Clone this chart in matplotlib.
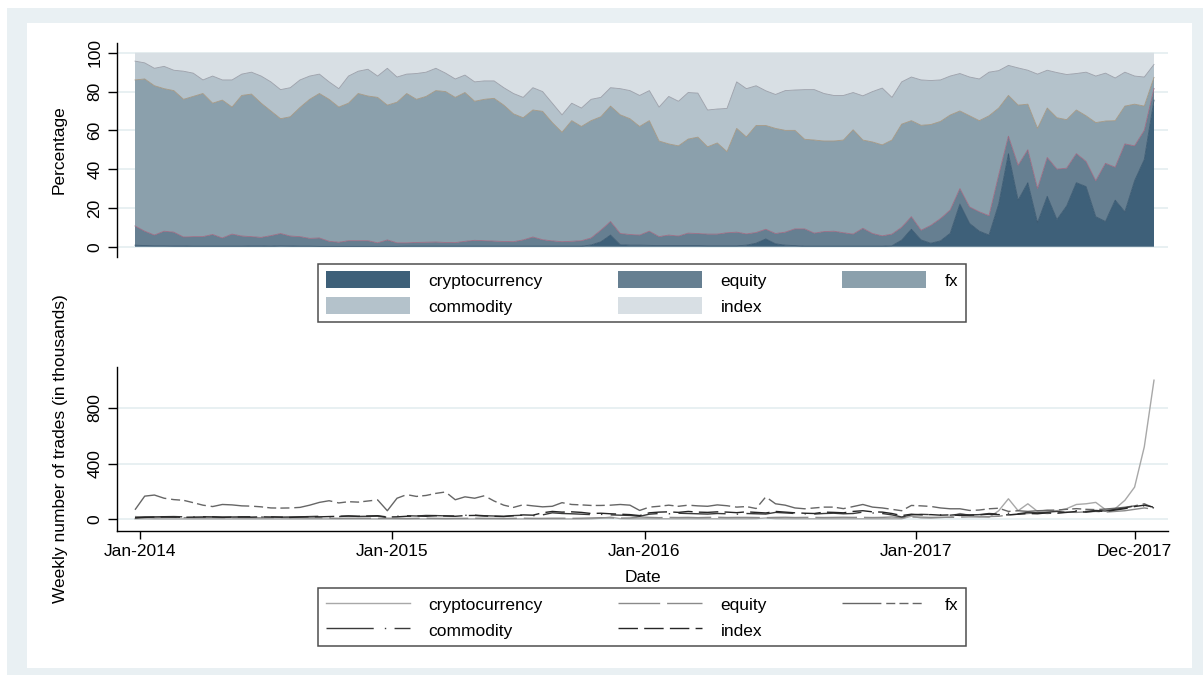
import numpy as np
import matplotlib
matplotlib.use('Agg')
import matplotlib.pyplot as plt
from matplotlib.patches import Patch, Rectangle
from matplotlib.lines import Line2D

plt.rcParams['font.family'] = ['Liberation Sans', 'DejaVu Sans']

categories = ['cryptocurrency', 'equity', 'fx', 'commodity', 'index']

# week index of each observation (every second week)
weeks = np.arange(0, 211, 2)

date_ticks = [1, 53, 105, 161, 206]
date_labels = ['Jan-2014', 'Jan-2015', 'Jan-2016', 'Jan-2017', 'Dec-2017']

# cumulative share of trades (%), stacked from the bottom
crypto_top = [0.8, 0.6, 0.5, 0.5, 0.4, 0.4, 0.3, 0.3, 0.3, 0.3, 0.3, 0.3, 0.4, 0.4, 0.3, 0.5, 0.4, 0.3, 0.3, 0.2,
              0.2, 0.2, 0.2, 0.2, 0.2, 0.2, 0.2, 0.2,
              0.3, 0.3, 0.3, 0.3, 0.3, 0.3, 0.3, 0.3, 0.3, 0.3, 0.3, 0.3, 0.3, 0.3, 0.3, 0.3, 0.3, 0.3, 0.3,
              0.9, 2.5, 6, 1, 0.8, 0.8, 0.7, 0.6, 0.6, 0.6, 0.6, 0.6, 0.5, 0.5, 0.5, 0.5, 0.8, 1.8, 4, 1.5, 0.8, 0.6,
              0.3, 0.3, 0.3, 0.3, 0.3, 0.3, 0.3, 0.3, 0.3, 0.5, 3.4, 9, 3.5, 1.8, 3, 6.9, 22, 12, 8, 6, 22, 48,
              24, 33, 12.4, 26, 14, 21, 33, 31, 15.5, 13, 24, 18, 34, 45, 75.6]
equity_top = [10.7, 8, 6, 8, 7.5, 5, 5.2, 5.2, 6.3, 4.5, 6.5, 5.5, 5.2, 4.8, 5.7, 6.8, 5.5, 5.2, 4.3, 4.5,
              2.8, 2.3, 3.1, 3.1, 3.1, 2, 3.5, 2,
              2, 2.2, 2.3, 2.4, 2.2, 2.1, 2.8, 3.3, 3.1, 2.9, 2.7, 2.6, 3.5, 5, 3.6, 3, 2.6, 2.8, 3.1, 4.5,
              8.5, 13, 6.8, 6.3, 6, 8, 5.2, 6, 5.5, 7, 6.8, 6.5, 6.5, 7.2, 7.5, 6.6, 7.3, 9, 6.8, 7.5, 9.2,
              9.2, 7, 7.8, 8, 7.2, 6.5, 9.5, 6.8, 5.6, 6.5, 10, 15.5, 8.5, 11, 14.5, 18.9, 30, 20.5, 18, 16,
              37, 57, 42, 50, 30, 46, 40, 40.5, 48, 44, 34, 43, 41, 53, 52, 60, 81.6]
fx_top = [86, 86.5, 83, 81.5, 80.5, 76, 77.5, 79, 74, 75.6, 72, 78, 78.7, 74, 70, 66, 67, 71.8, 76, 79,
          76, 72, 74, 79, 77.7, 77, 73, 74.5,
          79, 76, 77.5, 80.5, 80, 77, 79.5, 75, 76, 76.5, 73, 68.5, 66.5, 70.5, 69.8, 64, 59, 65, 62, 65,
          67, 72.5, 68, 66, 62, 65, 54.5, 53, 52, 55.5, 56.5, 51.5, 53.5, 49, 61, 56.6, 62.5, 62.5, 61, 60, 60,
          55.4, 55, 54.5, 54.5, 55, 60.3, 55, 54, 52.5, 55, 63.2, 65, 62.6, 63, 64.6, 67.9, 70, 67.5, 65,
          67.5, 71.5, 78, 73, 73.5, 61, 71.5, 66.5, 65.5, 70.5, 67.5, 64, 64.8, 65, 72.5, 73.5, 72.5, 87.3]
commodity_top = [95.7, 94.8, 92, 93, 91, 90.5, 89.5, 86, 88, 86, 86, 89, 90, 88, 85, 81, 82, 86, 88, 89,
                 85, 81.5, 88, 90.5, 91.5, 88, 92, 87.5,
                 89, 89.3, 90, 92, 89.5, 86.5, 88.5, 85, 85.5, 85.5, 82, 79, 77, 82, 80, 74, 68, 74, 71.5, 76,
                 77, 82, 81.5, 80.5, 78, 80.5, 72, 77.5, 75, 79.5, 79.2, 70.5, 71, 71.3, 85, 81.5, 83, 80.4,
                 78.5, 80.5, 80.8,
                 81, 81, 79, 78, 78, 79.5, 77.8, 80, 81.8, 77, 85, 87.5, 86, 85.7, 86, 88, 89.3, 87.5, 86.5,
                 90, 90.8, 93.5, 92.2, 91, 89, 91, 89.8, 88.8, 89.3, 90, 88, 89.5, 87, 90, 88, 87.5, 94]

# weekly number of trades (thousands)
crypto_trades = [2, 2, 1, 1, 1, 1, 1, 1, 1, 1, 1, 1, 1, 1, 1, 1, 1, 1, 1, 1, 1, 1, 1, 1, 1, 1, 1,
                 1, 1, 1, 1, 1, 1, 1, 1, 1, 1, 1, 1, 1, 1, 1, 1, 1, 1, 1, 1, 2, 6, 14, 3, 2, 2,
                 2, 2, 2, 2, 2, 2, 2, 2, 2, 2, 2, 3, 8, 3, 2, 2, 2, 2, 2, 2, 2, 2, 2, 2, 2, 2, 2,
                 20, 8, 6, 10, 15, 40, 25, 18, 12, 60, 146, 60, 110, 55, 65, 60, 75, 105, 110, 120,
                 68, 75, 135, 230, 520, 1000]
equity_trades = [18, 14, 10, 12, 13, 10, 10, 10, 11, 9, 11, 10, 10, 9, 10, 11, 10, 10, 9, 9, 6, 5, 6, 6, 6, 5, 6,
                 5, 4, 5, 6, 5, 4, 5, 5, 6, 5, 5, 4, 5, 6, 5, 5, 6, 6, 5, 6, 8, 10, 8, 7, 8, 15,
                 12, 10, 12, 11, 12, 10, 12, 13, 11, 12, 12, 11, 10, 12, 13, 11, 12, 12, 11, 12, 13, 12, 12,
                 11, 12, 15, 10,
                 15, 14, 12, 13, 12, 14, 16, 15, 18, 20, 30, 35, 40, 45, 40, 45, 50, 48, 52, 55, 50, 55, 60,
                 70, 80, 70]
fx_trades = [67, 165, 173, 150, 140, 135, 118, 100, 90, 105, 102, 95, 93, 88, 80, 79, 80, 84, 100, 120,
             132, 116, 125, 122, 130, 138, 60,
             150, 176, 163, 170, 185, 195, 139, 160, 150, 168, 130, 100, 84, 103, 95, 88, 92, 118, 105, 102,
             98, 98, 100, 105, 100, 62,
             86, 92, 100, 92, 100, 95, 92, 102, 96, 86, 90, 76, 160, 110, 100, 80, 74, 80, 86, 86, 75, 90,
             105, 86, 80, 70, 60,
             98, 95, 91, 80, 74, 74, 62, 65, 74, 78, 55, 60, 55, 60, 62, 65, 70, 75, 70, 68, 72, 78, 85, 95,
             110, 80]
commodity_trades = [10, 15, 16, 17, 18, 16, 15, 17, 16, 14, 15, 16, 17, 15, 16, 14, 15, 16, 18, 20, 17, 18, 22,
                    19, 20, 21, 12,
                    20, 24, 22, 26, 25, 23, 22, 27, 28, 24, 22, 20, 25, 28, 24, 30, 45, 40, 38, 35, 32, 34, 30,
                    28, 26, 20,
                    35, 40, 38, 42, 40, 38, 36, 40, 38, 35, 40, 38, 36, 48, 44, 40, 38, 36, 40, 42, 38, 40, 50,
                    44, 40, 30, 15,
                    30, 34, 32, 30, 28, 35, 30, 32, 40, 36, 42, 38, 48, 45, 50, 55, 48, 60, 55, 62, 58, 70, 80,
                    95, 95, 80]
index_trades = [8, 12, 14, 15, 14, 13, 14, 15, 16, 13, 14, 15, 14, 16, 15, 14, 12, 15, 17, 16, 18, 20, 22, 20,
                22, 24, 15,
                16, 20, 22, 20, 24, 22, 20, 25, 26, 22, 20, 18, 24, 30, 28, 45, 55, 50, 52, 48, 40, 42, 38, 35,
                32, 25,
                45, 50, 52, 48, 55, 50, 48, 52, 50, 46, 52, 48, 44, 55, 50, 45, 42, 40, 50, 48, 45, 55, 60, 52,
                50, 40, 25,
                35, 30, 32, 28, 30, 26, 28, 30, 35, 32, 30, 35, 40, 38, 45, 42, 48, 55, 50, 58, 55, 65, 75, 90,
                100, 85]

area_colors = ['#3e6079', '#667f91', '#8ba0ac', '#b4c2cb', '#d8dfe4']
edge_colors = ['#3a5870', '#9a6a82', '#a39682', '#9a9ea8']
line_colors = ['#a8a8a8', '#8a8a8a', '#666666', '#3a3a3a', '#262626']
line_dashes = [None, (30, 5), (28, 3.5, 6.5, 3, 6.5, 3, 6.5, 3.5), (34, 8, 1, 6), (14, 4.5)]
grid_color = '#e6eff1'

W, H = 1203, 675
fig = plt.figure(figsize=(W / 100, H / 100), dpi=100)
fig.patch.set_facecolor('white')
fig.add_artist(Rectangle((7 / W, 0), (W - 7) / W, 667 / H, transform=fig.transFigure,
                         facecolor='#e9f0f3', edgecolor='none', zorder=-10))
fig.add_artist(Rectangle((27 / W, 7 / H), 1165 / W, 645 / H, transform=fig.transFigure,
                         facecolor='white', edgecolor='none', zorder=-9))

xlim = (-(135 - 117) / 4.852, 210 + (1168 - 1154) / 4.852)
label_size = 12.5
tick_size = 12.5

# ---- shares (stacked areas)
ax1 = fig.add_axes([117 / W, 1 - 257 / H, (1168 - 117) / W, (257 - 42.7) / H])
ax1.patch.set_alpha(0)
levels = [np.zeros(len(weeks)), np.array(crypto_top), np.array(equity_top), np.array(fx_top),
          np.array(commodity_top), np.full(len(weeks), 100.0)]
for i in range(5):
    ax1.fill_between(weeks, levels[i], levels[i + 1], facecolor=area_colors[i], edgecolor='none',
                     linewidth=0, zorder=2)
for i in range(4):
    ax1.plot(weeks, levels[i + 1], color=edge_colors[i], lw=0.6, zorder=3)

ax1.set_xlim(*xlim)
ax1.set_ylim(-5.3, 105.2)
ax1.set_yticks([0, 20, 40, 60, 80, 100])
ax1.set_xticks([])
ax1.yaxis.grid(True, color=grid_color, lw=1.3)
ax1.set_axisbelow(True)
for s in ['top', 'right', 'bottom']:
    ax1.spines[s].set_visible(False)
ax1.spines['left'].set_linewidth(1.0)
ax1.tick_params(axis='y', length=6.5, width=1.0, pad=4, labelsize=tick_size, labelrotation=90)
for lbl in ax1.get_yticklabels():
    lbl.set_va('center')
ax1.set_ylabel('Percentage', fontsize=label_size)
ax1.yaxis.set_label_coords((67 - 117) / (1168 - 117), 0.5)

# ---- weekly trades (lines)
ax2 = fig.add_axes([117 / W, 1 - 531 / H, (1168 - 117) / W, (531 - 367) / H])
ax2.patch.set_alpha(0)
series = [crypto_trades, equity_trades, fx_trades, commodity_trades, index_trades]
line_handles = []
for i, vals in enumerate(series):
    ln, = ax2.plot(weeks, vals, color=line_colors[i], lw=1.0, zorder=3)
    if line_dashes[i] is not None:
        ln.set_dashes(line_dashes[i])
    line_handles.append(ln)

ax2.set_xlim(*xlim)
ax2.set_ylim(-86, 1095)
ax2.set_yticks([0, 400, 800])
ax2.set_xticks(date_ticks)
ax2.set_xticklabels(date_labels)
ax2.yaxis.grid(True, color=grid_color, lw=1.3)
ax2.set_axisbelow(True)
for s in ['top', 'right']:
    ax2.spines[s].set_visible(False)
ax2.spines['left'].set_linewidth(1.0)
ax2.spines['bottom'].set_linewidth(1.0)
ax2.tick_params(axis='y', length=6.5, width=1.0, pad=4, labelsize=tick_size, labelrotation=90)
ax2.tick_params(axis='x', length=6, width=1.0, pad=3, labelsize=tick_size)
for lbl in ax2.get_yticklabels():
    lbl.set_va('center')
ax2.set_ylabel('Weekly number of trades (in thousands)', fontsize=label_size)
ax2.yaxis.set_label_coords((68 - 117) / (1168 - 117), 0.5)
ax2.set_xlabel('Date', fontsize=label_size, labelpad=0)
ax2.xaxis.set_label_coords(0.5, -(570 - 531) / (531 - 367))

# legends: matplotlib fills columns first, so reorder for row-wise reading
order = [0, 3, 1, 4, 2]
area_handles = [Patch(facecolor=area_colors[i], edgecolor='none') for i in range(5)]
legend_kw = dict(ncol=3, loc='center', bbox_transform=fig.transFigure, fontsize=label_size,
                 frameon=True, fancybox=False, edgecolor='#222222', handlelength=4.84,
                 handletextpad=1.1, columnspacing=4.3, borderpad=0.45, labelspacing=0.5,
                 borderaxespad=0)
leg1 = ax1.legend([area_handles[i] for i in order], [categories[i] for i in order],
                  bbox_to_anchor=(642 / W, 1 - 293 / H), handleheight=1.1, **legend_kw)
leg1.get_frame().set_linewidth(1.1)
leg2 = ax2.legend([line_handles[i] for i in order], [categories[i] for i in order],
                  bbox_to_anchor=(642 / W, 1 - 617 / H), handleheight=1.1, **legend_kw)
leg2.get_frame().set_linewidth(1.1)

fig.savefig('out.png', dpi=100, facecolor='white')
